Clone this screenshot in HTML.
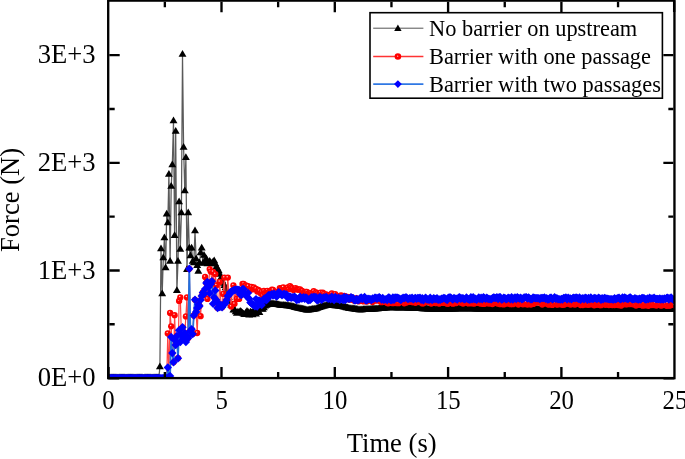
<!DOCTYPE html>
<html><head><meta charset="utf-8"><title>Force vs Time</title>
<style>
html,body{margin:0;padding:0;background:#fff;}
body{width:685px;height:459px;overflow:hidden;}
svg{display:block;font-family:"Liberation Serif","Times New Roman",serif;fill:#000;}
.tx text{font-size:24.8px;}
.ty text{font-size:26.6px;}
.lab{font-size:26.6px;}
.lg text{font-size:22.4px;}
</style></head><body>
<svg width="685" height="459" viewBox="0 0 685 459">
<defs>
<clipPath id="cp"><rect x="108.2" y="0.6" width="566.25" height="376.4"/></clipPath>
<marker id="mt" markerUnits="userSpaceOnUse" markerWidth="10" markerHeight="10" refX="5" refY="5" viewBox="0 0 10 10"><path d="M5 0.5 L8.95 7.25 L1.05 7.25 Z" fill="#000"/></marker>
<marker id="mc" markerUnits="userSpaceOnUse" markerWidth="10" markerHeight="10" refX="5" refY="5" viewBox="0 0 10 10"><circle cx="5" cy="5" r="3.15" fill="#f00"/><circle cx="4.4" cy="4.1" r="0.75" fill="#fff" fill-opacity=".8"/></marker>
<marker id="md" markerUnits="userSpaceOnUse" markerWidth="10" markerHeight="10" refX="5" refY="5" viewBox="0 0 10 10"><path d="M5 0.8 L9.2 5 L5 9.2 L0.8 5 Z" fill="#00f"/></marker>
</defs>
<rect width="685" height="459" fill="#fff"/>
<g clip-path="url(#cp)" fill="none" stroke-linejoin="round">
<polyline points="109.0,378.1 110.1,378.1 111.3,378.1 112.4,378.1 113.5,378.1 114.7,378.1 115.8,378.1 116.9,378.1 118.0,378.1 119.2,378.1 120.3,378.1 121.4,378.1 122.6,378.1 123.7,378.1 124.8,378.1 126.0,378.1 127.1,378.1 128.2,378.1 129.4,378.1 130.5,378.1 131.6,378.1 132.8,378.1 133.9,378.1 135.0,378.1 136.1,378.1 137.3,378.1 138.4,378.1 139.5,378.1 140.7,378.1 141.8,378.1 142.9,378.1 144.1,378.1 145.2,378.1 146.3,378.1 147.5,378.1 148.6,378.1 149.7,378.1 150.8,378.1 152.0,378.1 153.1,378.1 154.2,378.1 155.4,378.1 156.5,378.1 157.6,378.1 158.8,378.1 159.9,367.1 161.0,249.0 162.2,294.1 163.3,258.1 164.4,238.1 165.6,267.9 166.7,214.3 167.8,223.1 168.9,174.6 170.1,261.4 171.2,186.4 172.3,165.1 173.5,121.1 174.6,235.8 175.7,131.6 176.9,290.8 178.0,261.4 179.1,202.1 180.3,249.4 181.4,212.9 182.5,54.4 183.6,147.6 184.8,191.1 185.9,157.7 187.0,269.7 188.2,212.9 189.3,248.3 190.4,256.1 191.6,248.3 192.7,261.4 193.8,263.1 195.0,231.1 196.1,259.1 197.2,265.8 198.3,271.6 199.5,263.1 200.6,253.1 201.7,248.3 202.9,263.6 204.0,255.5 205.1,263.1 206.3,259.1 207.4,264.1 208.5,263.1 209.7,261.4 210.8,263.1 211.9,264.1 213.1,262.1 214.2,261.0 215.3,264.1 216.4,267.1 217.6,269.1 218.7,271.1 219.8,274.5 221.0,277.9 222.1,280.8 223.2,283.5 224.4,285.7 225.5,288.0 226.6,290.9 227.8,294.3 228.9,297.7 230.0,301.6 231.1,305.2 232.3,305.3 233.4,310.2 234.5,310.0 235.7,311.9 236.8,313.6 237.9,312.3 239.1,312.8 240.2,311.4 241.3,312.3 242.5,313.3 243.6,314.2 244.7,314.7 245.9,312.9 247.0,311.5 248.1,312.5 249.2,315.3 250.4,312.2 251.5,313.0 252.6,314.9 253.8,310.7 254.9,313.0 256.0,314.3 257.2,311.0 258.3,312.0 259.4,312.7 260.6,308.5 261.7,309.3 262.8,309.4 263.9,308.0 265.1,306.2 266.2,305.4 267.3,304.9 268.5,304.4 269.6,304.2 270.7,304.1 271.9,304.1 273.0,304.0 274.1,304.2 275.3,304.4 276.4,304.6 277.5,304.8 278.6,305.0 279.8,305.3 280.9,305.4 282.0,305.5 283.2,305.6 284.3,305.7 285.4,305.8 286.6,305.9 287.7,306.0 288.8,306.1 290.0,306.2 291.1,306.5 292.2,306.8 293.4,307.1 294.5,307.4 295.6,307.7 296.7,308.0 297.9,308.2 299.0,308.5 300.1,308.8 301.3,309.1 302.4,309.3 303.5,309.6 304.7,309.8 305.8,310.0 306.9,310.3 308.1,310.3 309.2,310.1 310.3,309.9 311.4,309.8 312.6,309.6 313.7,309.4 314.8,309.2 316.0,308.9 317.1,308.5 318.2,308.1 319.4,307.7 320.5,307.3 321.6,306.9 322.8,306.6 323.9,306.3 325.0,306.0 326.2,305.7 327.3,305.5 328.4,305.6 329.5,305.6 330.7,305.7 331.8,305.7 332.9,305.8 334.1,305.8 335.2,305.9 336.3,306.0 337.5,306.1 338.6,306.2 339.7,306.3 340.9,306.5 342.0,306.8 343.1,307.0 344.2,307.3 345.4,307.6 346.5,307.9 347.6,308.1 348.8,308.4 349.9,308.7 351.0,308.8 352.2,309.0 353.3,309.1 354.4,309.3 355.6,309.4 356.7,309.6 357.8,309.7 359.0,309.9 360.1,310.0 361.2,309.9 362.3,309.9 363.5,309.8 364.6,309.8 365.7,309.7 366.9,309.6 368.0,309.6 369.1,309.5 370.3,309.5 371.4,309.4 372.5,309.3 373.7,309.3 374.8,309.2 375.9,309.1 377.0,309.0 378.2,308.9 379.3,308.8 380.4,308.7 381.6,308.6 382.7,308.5 383.8,308.4 385.0,308.3 386.1,308.2 387.2,308.1 388.4,308.0 389.5,307.8 390.6,307.8 391.8,307.8 392.9,307.9 394.0,307.9 395.1,307.9 396.3,307.9 397.4,307.9 398.5,308.0 399.7,308.0 400.8,308.0 401.9,308.0 403.1,308.1 404.2,308.1 405.3,308.1 406.5,308.1 407.6,308.2 408.7,308.2 409.8,308.2 411.0,308.3 412.1,308.3 413.2,308.4 414.4,308.4 415.5,308.5 416.6,308.6 417.8,308.6 418.9,308.7 420.0,308.8 421.2,308.8 422.3,308.9 423.4,308.9 424.5,309.0 425.7,309.1 426.8,309.1 427.9,309.2 429.1,309.2 430.2,309.3 431.3,309.3 432.5,309.3 433.6,309.3 434.7,309.4 435.9,309.4 437.0,309.4 438.1,309.4 439.3,309.4 440.4,309.4 441.5,309.5 442.6,309.5 443.8,309.5 444.9,309.5 446.0,309.5 447.2,309.4 448.3,309.4 449.4,309.4 450.6,309.3 451.7,309.3 452.8,309.2 454.0,309.2 455.1,309.2 456.2,309.1 457.3,309.1 458.5,309.1 459.6,309.0 460.7,309.0 461.9,309.0 463.0,309.0 464.1,309.0 465.3,309.1 466.4,309.1 467.5,309.1 468.7,309.1 469.8,309.1 470.9,309.1 472.1,309.1 473.2,309.1 474.3,309.1 475.4,309.2 476.6,309.2 477.7,309.2 478.8,309.2 480.0,309.2 481.1,309.2 482.2,309.2 483.4,309.2 484.5,309.2 485.6,309.2 486.8,309.3 487.9,309.3 489.0,309.3 490.1,309.3 491.3,309.3 492.4,309.3 493.5,309.3 494.7,309.3 495.8,309.3 496.9,309.3 498.1,309.3 499.2,309.3 500.3,309.4 501.5,309.4 502.6,309.4 503.7,309.4 504.9,309.4 506.0,309.4 507.1,309.4 508.2,309.4 509.4,309.4 510.5,309.4 511.6,309.4 512.8,309.4 513.9,309.5 515.0,309.5 516.2,309.5 517.3,309.5 518.4,309.5 519.6,309.5 520.7,309.5 521.8,309.5 522.9,309.5 524.1,309.5 525.2,309.5 526.3,309.5 527.5,309.5 528.6,309.5 529.7,309.5 530.9,309.5 532.0,309.5 533.1,309.5 534.3,309.5 535.4,309.5 536.5,309.5 537.6,309.5 538.8,309.5 539.9,309.5 541.0,309.5 542.2,309.5 543.3,309.5 544.4,309.5 545.6,309.5 546.7,309.5 547.8,309.5 549.0,309.5 550.1,309.5 551.2,309.5 552.4,309.5 553.5,309.5 554.6,309.5 555.7,309.5 556.9,309.5 558.0,309.5 559.1,309.5 560.3,309.5 561.4,309.5 562.5,309.5 563.7,309.5 564.8,309.5 565.9,309.5 567.1,309.5 568.2,309.5 569.3,309.5 570.4,309.4 571.6,309.4 572.7,309.4 573.8,309.4 575.0,309.4 576.1,309.4 577.2,309.4 578.4,309.4 579.5,309.4 580.6,309.4 581.8,309.4 582.9,309.4 584.0,309.4 585.2,309.4 586.3,309.4 587.4,309.4 588.5,309.4 589.7,309.4 590.8,309.3 591.9,309.3 593.1,309.3 594.2,309.3 595.3,309.3 596.5,309.3 597.6,309.3 598.7,309.3 599.9,309.3 601.0,309.3 602.1,309.3 603.2,309.3 604.4,309.3 605.5,309.3 606.6,309.3 607.8,309.3 608.9,309.3 610.0,309.3 611.2,309.3 612.3,309.3 613.4,309.3 614.6,309.3 615.7,309.3 616.8,309.3 618.0,309.3 619.1,309.3 620.2,309.3 621.3,309.3 622.5,309.3 623.6,309.3 624.7,309.3 625.9,309.3 627.0,309.3 628.1,309.3 629.3,309.3 630.4,309.3 631.5,309.3 632.7,309.3 633.8,309.3 634.9,309.3 636.0,309.3 637.2,309.3 638.3,309.3 639.4,309.3 640.6,309.3 641.7,309.3 642.8,309.3 644.0,309.3 645.1,309.3 646.2,309.3 647.4,309.3 648.5,309.3 649.6,309.3 650.7,309.3 651.9,309.3 653.0,309.3 654.1,309.3 655.3,309.3 656.4,309.3 657.5,309.3 658.7,309.3 659.8,309.3 660.9,309.3 662.1,309.3 663.2,309.3 664.3,309.3 665.5,309.3 666.6,309.3 667.7,309.3 668.8,309.3 670.0,309.3 671.1,309.3 672.2,309.3 673.4,309.3 674.5,309.3" stroke="#5a5a5a" stroke-width="1.25" marker-start="url(#mt)" marker-mid="url(#mt)" marker-end="url(#mt)"/>
<polyline points="109.0,378.1 110.1,378.1 111.3,378.1 112.4,378.1 113.5,378.1 114.7,378.1 115.8,378.1 116.9,378.1 118.0,378.1 119.2,378.1 120.3,378.1 121.4,378.1 122.6,378.1 123.7,378.1 124.8,378.1 126.0,378.1 127.1,378.1 128.2,378.1 129.4,378.1 130.5,378.1 131.6,378.1 132.8,378.1 133.9,378.1 135.0,378.1 136.1,378.1 137.3,378.1 138.4,378.1 139.5,378.1 140.7,378.1 141.8,378.1 142.9,378.1 144.1,378.1 145.2,378.1 146.3,378.1 147.5,378.1 148.6,378.1 149.7,378.1 150.8,378.1 152.0,378.1 153.1,378.1 154.2,378.1 155.4,378.1 156.5,378.1 157.6,378.1 158.8,378.1 159.9,378.1 161.0,378.1 162.2,378.1 163.3,378.1 164.4,378.1 165.6,378.1 166.7,378.1 167.8,333.5 168.9,377.0 170.1,313.0 171.2,326.3 172.3,353.1 173.5,362.2 174.6,315.2 175.7,345.0 176.9,336.0 178.0,358.2 179.1,300.9 180.3,297.4 181.4,335.0 182.5,327.3 183.6,338.0 184.8,333.0 185.9,316.4 187.0,297.4 188.2,338.0 189.3,268.8 190.4,331.0 191.6,329.2 192.7,334.1 193.8,315.5 195.0,299.8 196.1,312.0 197.2,333.0 198.3,304.7 199.5,306.0 200.6,316.2 201.7,296.0 202.9,292.5 204.0,294.0 205.1,277.0 206.3,283.0 207.4,298.9 208.5,287.0 209.7,269.1 210.8,271.6 211.9,281.2 213.1,272.0 214.2,297.4 215.3,274.1 216.4,285.4 217.6,308.0 218.7,304.0 219.8,281.9 221.0,305.0 222.1,307.3 223.2,293.9 224.4,277.6 225.5,303.0 226.6,300.0 227.8,277.6 228.9,295.0 230.0,292.5 231.1,306.6 232.3,291.0 233.4,285.4 234.5,303.8 235.7,289.7 236.8,298.9 237.9,289.7 239.1,298.9 240.2,294.3 241.3,295.1 242.5,284.0 243.6,284.0 244.7,285.9 245.9,285.5 247.0,286.4 248.1,286.1 249.2,289.2 250.4,289.8 251.5,286.9 252.6,289.3 253.8,287.5 254.9,289.2 256.0,289.0 257.2,291.6 258.3,289.9 259.4,291.0 260.6,293.3 261.7,291.8 262.8,295.8 263.9,290.8 265.1,294.2 266.2,291.4 267.3,291.0 268.5,292.3 269.6,291.9 270.7,291.5 271.9,289.6 273.0,290.0 274.1,292.8 275.3,291.8 276.4,292.5 277.5,293.3 278.6,291.5 279.8,288.1 280.9,288.7 282.0,289.4 283.2,287.4 284.3,290.2 285.4,289.7 286.6,289.1 287.7,287.5 288.8,289.2 290.0,286.2 291.1,287.3 292.2,288.4 293.4,290.0 294.5,289.3 295.6,288.1 296.7,289.3 297.9,289.5 299.0,289.7 300.1,289.4 301.3,290.7 302.4,291.1 303.5,292.7 304.7,293.0 305.8,292.0 306.9,291.9 308.1,293.3 309.2,293.9 310.3,293.2 311.4,293.9 312.6,294.6 313.7,291.2 314.8,294.7 316.0,292.5 317.1,293.5 318.2,294.9 319.4,294.7 320.5,292.7 321.6,294.8 322.8,292.6 323.9,293.8 325.0,295.7 326.2,294.3 327.3,295.1 328.4,295.7 329.5,296.2 330.7,296.1 331.8,293.4 332.9,295.1 334.1,295.5 335.2,294.1 336.3,296.1 337.5,296.5 338.6,297.5 339.7,298.1 340.9,295.3 342.0,295.9 343.1,297.7 344.2,296.0 345.4,296.6 346.5,298.1 347.6,296.9 348.8,299.3 349.9,299.7 351.0,297.0 352.2,298.9 353.3,300.0 354.4,300.8 355.6,298.5 356.7,298.4 357.8,301.0 359.0,301.3 360.1,299.0 361.2,299.9 362.3,300.9 363.5,301.4 364.6,299.2 365.7,301.0 366.9,301.6 368.0,300.8 369.1,299.6 370.3,299.2 371.4,300.1 372.5,302.0 373.7,299.5 374.8,299.5 375.9,300.7 377.0,299.8 378.2,300.2 379.3,299.9 380.4,301.6 381.6,302.2 382.7,301.3 383.8,300.4 385.0,301.1 386.1,301.9 387.2,303.1 388.4,303.3 389.5,300.9 390.6,300.2 391.8,302.9 392.9,303.2 394.0,301.7 395.1,302.8 396.3,303.1 397.4,302.3 398.5,303.2 399.7,300.5 400.8,301.3 401.9,301.3 403.1,300.8 404.2,303.3 405.3,300.5 406.5,302.6 407.6,300.7 408.7,301.6 409.8,301.8 411.0,301.1 412.1,302.1 413.2,302.2 414.4,301.5 415.5,302.8 416.6,301.1 417.8,301.2 418.9,301.7 420.0,301.8 421.2,301.2 422.3,303.4 423.4,303.2 424.5,300.9 425.7,301.8 426.8,301.4 427.9,302.0 429.1,301.5 430.2,302.2 431.3,303.5 432.5,301.8 433.6,302.7 434.7,302.5 435.9,303.0 437.0,300.9 438.1,303.0 439.3,303.6 440.4,302.5 441.5,301.6 442.6,302.8 443.8,302.9 444.9,302.7 446.0,301.2 447.2,303.7 448.3,303.6 449.4,302.0 450.6,302.6 451.7,300.9 452.8,303.7 454.0,303.2 455.1,302.7 456.2,303.1 457.3,301.4 458.5,301.7 459.6,301.5 460.7,302.6 461.9,301.1 463.0,303.5 464.1,302.3 465.3,302.2 466.4,301.2 467.5,303.0 468.7,303.4 469.8,302.9 470.9,301.7 472.1,303.4 473.2,301.5 474.3,303.5 475.4,302.8 476.6,302.0 477.7,302.6 478.8,303.0 480.0,301.9 481.1,303.7 482.2,302.5 483.4,303.9 484.5,303.7 485.6,301.6 486.8,303.2 487.9,302.2 489.0,303.6 490.1,303.0 491.3,302.7 492.4,304.0 493.5,301.6 494.7,303.1 495.8,302.4 496.9,301.6 498.1,303.7 499.2,303.2 500.3,304.2 501.5,303.3 502.6,302.5 503.7,304.4 504.9,301.9 506.0,301.7 507.1,303.7 508.2,302.7 509.4,302.7 510.5,304.2 511.6,302.6 512.8,304.2 513.9,303.5 515.0,302.6 516.2,301.8 517.3,302.4 518.4,304.5 519.6,302.9 520.7,302.2 521.8,302.6 522.9,304.3 524.1,302.2 525.2,304.0 526.3,302.1 527.5,304.5 528.6,303.3 529.7,301.9 530.9,304.5 532.0,302.8 533.1,303.9 534.3,303.3 535.4,302.1 536.5,302.1 537.6,302.3 538.8,302.3 539.9,302.0 541.0,302.0 542.2,304.6 543.3,302.2 544.4,303.4 545.6,302.3 546.7,302.6 547.8,304.2 549.0,304.7 550.1,303.3 551.2,302.0 552.4,304.9 553.5,302.2 554.6,303.2 555.7,303.6 556.9,304.6 558.0,304.4 559.1,303.9 560.3,303.3 561.4,304.5 562.5,304.6 563.7,304.7 564.8,304.2 565.9,302.5 567.1,303.1 568.2,303.6 569.3,303.7 570.4,304.6 571.6,302.9 572.7,304.2 573.8,303.4 575.0,304.5 576.1,302.9 577.2,303.7 578.4,302.7 579.5,303.0 580.6,305.0 581.8,303.3 582.9,305.0 584.0,303.9 585.2,302.6 586.3,304.7 587.4,302.6 588.5,304.8 589.7,302.5 590.8,304.4 591.9,303.0 593.1,303.5 594.2,305.3 595.3,304.0 596.5,304.5 597.6,304.7 598.7,302.9 599.9,305.0 601.0,305.2 602.1,303.1 603.2,304.2 604.4,303.5 605.5,304.8 606.6,302.8 607.8,304.2 608.9,305.0 610.0,304.8 611.2,303.1 612.3,305.1 613.4,303.5 614.6,305.1 615.7,304.2 616.8,303.3 618.0,304.9 619.1,305.2 620.2,304.9 621.3,305.6 622.5,303.6 623.6,303.6 624.7,303.3 625.9,304.4 627.0,304.0 628.1,303.9 629.3,304.2 630.4,303.7 631.5,302.9 632.7,304.3 633.8,303.7 634.9,304.2 636.0,305.6 637.2,303.5 638.3,304.7 639.4,304.8 640.6,303.8 641.7,304.3 642.8,305.7 644.0,303.9 645.1,305.0 646.2,305.3 647.4,304.0 648.5,305.8 649.6,304.8 650.7,304.4 651.9,305.0 653.0,304.2 654.1,305.0 655.3,303.8 656.4,305.6 657.5,304.5 658.7,303.7 659.8,304.3 660.9,305.5 662.1,305.3 663.2,304.4 664.3,304.0 665.5,304.1 666.6,305.8 667.7,303.4 668.8,305.6 670.0,305.5 671.1,303.7 672.2,304.1 673.4,304.7 674.5,305.3" stroke="#f44" stroke-width="1.2" marker-start="url(#mc)" marker-mid="url(#mc)" marker-end="url(#mc)"/>
<polyline points="109.0,378.1 110.1,378.1 111.3,378.1 112.4,378.1 113.5,378.1 114.7,378.1 115.8,378.1 116.9,378.1 118.0,378.1 119.2,378.1 120.3,378.1 121.4,378.1 122.6,378.1 123.7,378.1 124.8,378.1 126.0,378.1 127.1,378.1 128.2,378.1 129.4,378.1 130.5,378.1 131.6,378.1 132.8,378.1 133.9,378.1 135.0,378.1 136.1,378.1 137.3,378.1 138.4,378.1 139.5,378.1 140.7,378.1 141.8,378.1 142.9,378.1 144.1,378.1 145.2,378.1 146.3,378.1 147.5,378.1 148.6,378.1 149.7,378.1 150.8,378.1 152.0,378.1 153.1,378.1 154.2,378.1 155.4,378.1 156.5,378.1 157.6,378.1 158.8,378.1 159.9,378.1 161.0,378.1 162.2,378.1 163.3,378.1 164.4,378.1 165.6,378.1 166.7,378.1 167.8,367.5 168.9,377.0 170.1,376.0 171.2,337.0 172.3,353.1 173.5,362.2 174.6,340.0 175.7,345.0 176.9,336.0 178.0,358.2 179.1,330.2 180.3,342.0 181.4,335.0 182.5,327.3 183.6,338.0 184.8,333.0 185.9,342.0 187.0,336.0 188.2,338.0 189.3,268.8 190.4,331.0 191.6,329.2 192.7,334.1 193.8,315.5 195.0,299.8 196.1,312.0 197.2,308.0 198.3,304.7 199.5,306.0 200.6,300.0 201.7,296.0 202.9,292.5 204.0,294.0 205.1,289.0 206.3,283.0 207.4,281.9 208.5,287.0 209.7,293.2 210.8,284.0 211.9,281.2 213.1,303.8 214.2,297.4 215.3,290.4 216.4,300.0 217.6,308.0 218.7,304.0 219.8,307.0 221.0,305.0 222.1,307.3 223.2,305.0 224.4,304.0 225.5,303.0 226.6,300.0 227.8,296.0 228.9,295.0 230.0,292.5 231.1,292.0 232.3,291.0 233.4,290.5 234.5,290.0 235.7,289.7 236.8,289.7 237.9,289.7 239.1,290.0 240.2,294.3 241.3,295.1 242.5,289.1 243.6,289.1 244.7,292.9 245.9,294.7 247.0,296.7 248.1,292.9 249.2,298.8 250.4,302.4 251.5,303.4 252.6,304.6 253.8,305.1 254.9,306.2 256.0,299.1 257.2,306.6 258.3,300.8 259.4,300.8 260.6,301.6 261.7,305.1 262.8,301.1 263.9,299.0 265.1,298.3 266.2,300.3 267.3,299.3 268.5,295.2 269.6,295.2 270.7,295.3 271.9,294.1 273.0,295.6 274.1,293.6 275.3,295.0 276.4,296.5 277.5,295.7 278.6,292.2 279.8,292.9 280.9,294.1 282.0,295.4 283.2,294.3 284.3,294.0 285.4,294.8 286.6,294.4 287.7,297.8 288.8,297.4 290.0,296.4 291.1,297.9 292.2,297.2 293.4,297.4 294.5,296.8 295.6,297.6 296.7,300.0 297.9,299.3 299.0,299.6 300.1,296.8 301.3,298.6 302.4,298.3 303.5,297.3 304.7,298.8 305.8,297.5 306.9,298.1 308.1,300.4 309.2,299.9 310.3,299.9 311.4,297.3 312.6,297.6 313.7,296.9 314.8,297.2 316.0,297.1 317.1,300.4 318.2,300.0 319.4,297.2 320.5,297.3 321.6,299.9 322.8,298.3 323.9,297.4 325.0,297.7 326.2,297.0 327.3,298.2 328.4,298.8 329.5,298.1 330.7,299.3 331.8,296.7 332.9,298.6 334.1,300.1 335.2,297.0 336.3,298.3 337.5,298.9 338.6,297.8 339.7,300.1 340.9,298.4 342.0,298.5 343.1,300.0 344.2,296.9 345.4,300.0 346.5,297.4 347.6,298.3 348.8,298.7 349.9,298.7 351.0,297.2 352.2,298.1 353.3,298.3 354.4,300.3 355.6,300.2 356.7,299.0 357.8,300.2 359.0,299.9 360.1,298.3 361.2,297.4 362.3,299.0 363.5,298.1 364.6,297.0 365.7,300.2 366.9,300.2 368.0,298.7 369.1,299.0 370.3,299.2 371.4,300.0 372.5,298.5 373.7,298.9 374.8,297.8 375.9,297.8 377.0,298.7 378.2,297.8 379.3,297.2 380.4,298.3 381.6,299.5 382.7,298.0 383.8,299.9 385.0,299.4 386.1,299.2 387.2,300.0 388.4,297.5 389.5,297.8 390.6,300.1 391.8,300.1 392.9,297.5 394.0,299.7 395.1,297.4 396.3,297.7 397.4,297.7 398.5,298.3 399.7,298.6 400.8,300.1 401.9,298.7 403.1,297.8 404.2,298.2 405.3,297.4 406.5,297.5 407.6,298.7 408.7,298.9 409.8,298.1 411.0,298.5 412.1,297.7 413.2,299.3 414.4,298.5 415.5,297.9 416.6,298.9 417.8,298.0 418.9,298.2 420.0,297.8 421.2,299.7 422.3,298.2 423.4,300.2 424.5,298.6 425.7,297.8 426.8,299.4 427.9,299.5 429.1,299.9 430.2,297.8 431.3,299.6 432.5,299.8 433.6,298.3 434.7,298.7 435.9,299.1 437.0,298.1 438.1,299.9 439.3,299.4 440.4,299.8 441.5,298.6 442.6,298.8 443.8,297.9 444.9,298.2 446.0,299.4 447.2,300.0 448.3,297.8 449.4,297.5 450.6,297.5 451.7,298.5 452.8,299.5 454.0,297.9 455.1,298.6 456.2,298.7 457.3,299.6 458.5,297.7 459.6,297.3 460.7,298.7 461.9,298.2 463.0,298.1 464.1,299.4 465.3,299.1 466.4,297.5 467.5,298.7 468.7,299.4 469.8,299.7 470.9,297.2 472.1,299.4 473.2,297.3 474.3,299.0 475.4,298.8 476.6,299.7 477.7,298.9 478.8,297.4 480.0,299.0 481.1,297.8 482.2,299.4 483.4,297.2 484.5,298.0 485.6,298.9 486.8,297.6 487.9,298.8 489.0,299.0 490.1,299.1 491.3,299.4 492.4,298.2 493.5,297.5 494.7,297.8 495.8,298.1 496.9,297.2 498.1,299.0 499.2,297.3 500.3,297.2 501.5,299.5 502.6,299.2 503.7,297.7 504.9,298.0 506.0,299.2 507.1,298.7 508.2,297.7 509.4,298.2 510.5,299.3 511.6,297.1 512.8,299.6 513.9,298.5 515.0,297.5 516.2,299.1 517.3,297.2 518.4,298.1 519.6,298.5 520.7,297.7 521.8,299.3 522.9,298.8 524.1,297.5 525.2,297.4 526.3,297.2 527.5,298.5 528.6,297.5 529.7,298.5 530.9,299.2 532.0,299.3 533.1,297.4 534.3,297.9 535.4,298.2 536.5,298.1 537.6,298.2 538.8,298.3 539.9,299.0 541.0,297.9 542.2,298.0 543.3,298.1 544.4,297.5 545.6,298.8 546.7,298.2 547.8,299.5 549.0,299.3 550.1,297.8 551.2,297.8 552.4,299.2 553.5,298.6 554.6,297.2 555.7,298.8 556.9,298.2 558.0,299.2 559.1,299.1 560.3,299.6 561.4,299.0 562.5,299.5 563.7,298.0 564.8,298.1 565.9,297.4 567.1,299.4 568.2,297.7 569.3,298.7 570.4,298.5 571.6,299.3 572.7,298.3 573.8,297.6 575.0,298.2 576.1,297.4 577.2,298.0 578.4,298.9 579.5,297.4 580.6,299.8 581.8,298.6 582.9,298.1 584.0,299.4 585.2,297.7 586.3,298.1 587.4,299.7 588.5,297.9 589.7,299.2 590.8,297.5 591.9,298.7 593.1,299.0 594.2,297.9 595.3,298.2 596.5,298.7 597.6,298.8 598.7,297.7 599.9,298.4 601.0,299.8 602.1,298.2 603.2,299.3 604.4,297.9 605.5,298.5 606.6,298.6 607.8,298.8 608.9,299.1 610.0,299.3 611.2,299.1 612.3,299.4 613.4,299.5 614.6,298.2 615.7,299.4 616.8,298.6 618.0,298.0 619.1,297.8 620.2,299.2 621.3,298.9 622.5,297.5 623.6,298.8 624.7,297.5 625.9,298.3 627.0,298.8 628.1,299.0 629.3,297.8 630.4,297.5 631.5,298.8 632.7,299.4 633.8,299.3 634.9,298.3 636.0,298.8 637.2,299.1 638.3,299.5 639.4,298.6 640.6,299.5 641.7,298.2 642.8,297.9 644.0,298.1 645.1,299.2 646.2,299.5 647.4,298.5 648.5,299.1 649.6,297.7 650.7,298.6 651.9,298.4 653.0,298.4 654.1,297.8 655.3,298.9 656.4,299.0 657.5,298.9 658.7,299.2 659.8,298.5 660.9,299.5 662.1,298.8 663.2,299.5 664.3,298.4 665.5,299.1 666.6,297.9 667.7,297.6 668.8,299.6 670.0,298.3 671.1,297.5 672.2,298.9 673.4,299.7 674.5,299.3" stroke="#1f6fde" stroke-width="1.8" marker-start="url(#md)" marker-mid="url(#md)" marker-end="url(#md)"/>
</g>
<g fill="none" stroke="#000" stroke-width="2.35">
<rect x="108.2" y="0.6" width="566.25" height="377.5"/>
<path d="M164.85 377.0 v-5 M164.85 1.7000000000000002 v5.5 M221.50 377.0 v-10 M221.50 1.7000000000000002 v10.5 M278.15 377.0 v-5 M278.15 1.7000000000000002 v5.5 M334.80 377.0 v-10 M334.80 1.7000000000000002 v10.5 M391.45 377.0 v-5 M391.45 1.7000000000000002 v5.5 M448.10 377.0 v-10 M448.10 1.7000000000000002 v10.5 M504.75 377.0 v-5 M504.75 1.7000000000000002 v5.5 M561.40 377.0 v-10 M561.40 1.7000000000000002 v10.5 M618.05 377.0 v-5 M618.05 1.7000000000000002 v5.5 M109.3 324.28 h5.4 M673.35 324.28 h-5 M109.3 270.45 h10.4 M673.35 270.45 h-10 M109.3 216.62 h5.4 M673.35 216.62 h-5 M109.3 162.80 h10.4 M673.35 162.80 h-10 M109.3 108.98 h5.4 M673.35 108.98 h-5 M109.3 55.15 h10.4 M673.35 55.15 h-10 M108.50 378.1 v-11 M674.15 0.6 v11.5 M108.2 378.40 h11 M674.45 378.40 h-11"/>
</g>
<g class="tx"><text transform="translate(108.4,408.9) scale(1,1.06)" text-anchor="middle">0</text><text transform="translate(221.7,408.9) scale(1,1.06)" text-anchor="middle">5</text><text transform="translate(335.0,408.9) scale(1,1.06)" text-anchor="middle">10</text><text transform="translate(448.3,408.9) scale(1,1.06)" text-anchor="middle">15</text><text transform="translate(561.6,408.9) scale(1,1.06)" text-anchor="middle">20</text><text transform="translate(674.9,408.9) scale(1,1.06)" text-anchor="middle">25</text></g><g class="ty"><text x="95.6" y="386.1" text-anchor="end">0E+0</text><text x="95.6" y="278.5" text-anchor="end">1E+3</text><text x="95.6" y="170.8" text-anchor="end">2E+3</text><text x="95.6" y="63.1" text-anchor="end">3E+3</text></g>
<text class="lab" x="391.7" y="452.1" text-anchor="middle">Time (s)</text>
<text class="lab" transform="translate(19.2,200) rotate(-90)" text-anchor="middle">Force (N)</text>
<g class="lg">
<rect x="370" y="12.7" width="292.4" height="85.5" fill="#fff" stroke="#000" stroke-width="1.6"/>
<path d="M373.2 28.2 H423.4" stroke="#555" stroke-width="1"/>
<path d="M373.2 56.5 H423.4" stroke="#f33" stroke-width="1.6"/>
<path d="M373.2 84.1 H423.4" stroke="#2f78e4" stroke-width="1.6"/>
<path d="M397.9 24.4 L401.6 30.9 L394.2 30.9 Z" fill="#000"/>
<circle cx="397.9" cy="56.5" r="3.3" fill="#f00"/><circle cx="397.7" cy="56.2" r="0.6" fill="#fff" fill-opacity=".85"/>
<path d="M397.9 80.2 L401.8 84.1 L397.9 88 L394 84.1 Z" fill="#00f"/>
<text x="429" y="36">No barrier on upstream</text>
<text x="429" y="64.2">Barrier with one passage</text>
<text x="429" y="92">Barrier with two passages</text>
</g>
</svg>
</body></html>
